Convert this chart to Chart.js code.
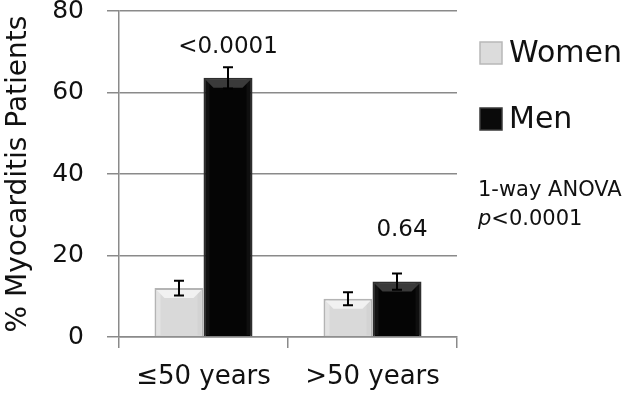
<!DOCTYPE html>
<html>
<head>
<meta charset="utf-8">
<script src="https://cdn.jsdelivr.net/npm/chart.js@4.4.1/dist/chart.umd.min.js"></script>
<style>
    html, body { margin: 0; padding: 0; background: #fff; }
    #wrap { width: 643px; height: 403px; }
</style>
</head>
<body>
<div id="wrap"><canvas id="myoChart"></canvas></div>
<script>
const ageGroups = ['\u226450 years', '>50 years'];
const seriesNames = ['Women', 'Men'];
const womenValues = [12.0, 9.4];
const menValues = [63.6, 13.6];
const womenErrors = [1.8, 1.6];
const menErrors = [2.6, 2.0];
const pValues = ['<0.0001', '0.64'];
const pLabelLevels = [71.2, 26.3];
const yTicks = [0, 20, 40, 60, 80];

const FONT = "'DejaVu Sans', sans-serif";

// bevel shading: top band plus faint side edges
const bevelColors = [
    { top: '#f1f1f1', left: '#e3e3e3', right: '#d3d3d3' },
    { top: '#3a3a3a', left: '#121212', right: '#0f0f0f' }
];

const bevelPlugin = {
    id: 'bevel',
    afterDatasetsDraw(chart) {
        const ctx = chart.ctx;
        const b = 8;
        const s = 4;
        ctx.save();
        chart.data.datasets.forEach((ds, di) => {
            const meta = chart.getDatasetMeta(di);
            const c = bevelColors[di];
            meta.data.forEach(bar => {
                const l = bar.x - bar.width / 2 + 2;
                const r = bar.x + bar.width / 2 - 2;
                const t = bar.y + 2;
                const bot = bar.base - 1;
                ctx.fillStyle = c.left;
                ctx.fillRect(l, t, s, bot - t);
                ctx.fillStyle = c.right;
                ctx.fillRect(r - s, t, s, bot - t);
                ctx.fillStyle = c.top;
                ctx.beginPath();
                ctx.moveTo(l, t);
                ctx.lineTo(r, t);
                ctx.lineTo(r - b, t + b);
                ctx.lineTo(l + b, t + b);
                ctx.closePath();
                ctx.fill();
            });
        });
        ctx.restore();
    }
};

// error bars (I shape) drawn from the bar positions
const errorBarPlugin = {
    id: 'errorBars',
    afterDatasetsDraw(chart) {
        const ctx = chart.ctx;
        const yScale = chart.scales.y;
        ctx.save();
        ctx.strokeStyle = '#000';
        ctx.lineWidth = 2;
        chart.data.datasets.forEach((ds, di) => {
            const meta = chart.getDatasetMeta(di);
            meta.data.forEach((bar, i) => {
                const v = ds.data[i];
                const err = ds.errors[i];
                const yTop = yScale.getPixelForValue(v + err);
                const yBot = yScale.getPixelForValue(v - err);
                ctx.beginPath();
                ctx.moveTo(bar.x, yTop);
                ctx.lineTo(bar.x, yBot);
                ctx.moveTo(bar.x - 5, yTop);
                ctx.lineTo(bar.x + 5, yTop);
                ctx.moveTo(bar.x - 5, yBot);
                ctx.lineTo(bar.x + 5, yBot);
                ctx.stroke();
            });
        });
        ctx.restore();
    }
};

// p-value labels above the men bars, legend and ANOVA note on the right
const annotationPlugin = {
    id: 'annotations',
    afterDraw(chart) {
        const ctx = chart.ctx;
        const area = chart.chartArea;
        const menMeta = chart.getDatasetMeta(1);
        ctx.save();
        ctx.fillStyle = '#111';
        ctx.textAlign = 'center';
        ctx.textBaseline = 'middle';
        ctx.font = '23px ' + FONT;
        menMeta.data.forEach((bar, i) => {
            const yLabel = chart.scales.y.getPixelForValue(pLabelLevels[i]);
            ctx.fillText(pValues[i], bar.x + (i === 1 ? 5 : 0), yLabel);
        });

        const lx = area.right + 23;
        const colors = [['#dcdcdc', '#b8b8b8'], ['#0a0a0a', '#3a3a3a']];
        const ly = [53, 119];
        ctx.textAlign = 'left';
        ctx.font = '30px ' + FONT;
        seriesNames.forEach((name, i) => {
            ctx.fillStyle = colors[i][0];
            ctx.fillRect(lx, ly[i] - 11, 22, 22);
            ctx.strokeStyle = colors[i][1];
            ctx.lineWidth = 1.5;
            ctx.strokeRect(lx, ly[i] - 11, 22, 22);
            ctx.fillStyle = '#111';
            ctx.fillText(name, lx + 29, ly[i] + 1);
        });

        ctx.font = '21px ' + FONT;
        ctx.fillText('1-way ANOVA', lx - 2, 191);
        ctx.font = 'italic 21px ' + FONT;
        ctx.fillText('p', lx - 2, 220);
        const pw = ctx.measureText('p').width;
        ctx.font = '21px ' + FONT;
        ctx.fillText('<0.0001', lx - 2 + pw, 220);
        ctx.restore();
    }
};

const ctx = document.getElementById('myoChart').getContext('2d');
new Chart(ctx, {
    type: 'bar',
    data: {
        labels: ageGroups,
        datasets: [
            {
                label: seriesNames[0],
                data: womenValues,
                errors: womenErrors,
                backgroundColor: '#d9d9d9',
                borderColor: '#b4b4b4',
                borderWidth: 2,
                barPercentage: 1,
                categoryPercentage: 0.58
            },
            {
                label: seriesNames[1],
                data: menValues,
                errors: menErrors,
                backgroundColor: '#050505',
                borderColor: '#2e2e2e',
                borderWidth: 2,
                barPercentage: 1,
                categoryPercentage: 0.58
            }
        ]
    },
    options: {
        responsive: true,
        maintainAspectRatio: false,
        animation: false,
        layout: {
            padding: { left: 0, right: 186, top: 11, bottom: 0 }
        },
        plugins: {
            legend: { display: false },
            tooltip: { enabled: false }
        },
        scales: {
            x: {
                offset: true,
                grid: {
                    offset: true,
                    drawOnChartArea: false,
                    color: '#8a8a8a',
                    lineWidth: 1.5,
                    tickLength: 11
                },
                border: { color: '#8a8a8a', width: 1.5 },
                ticks: {
                    color: '#111',
                    padding: 14,
                    font: { family: FONT, size: 26 }
                },
                afterFit(scale) { scale.height = 66; }
            },
            y: {
                min: 0,
                max: 80,
                afterBuildTicks(scale) {
                    scale.ticks = yTicks.map(v => ({ value: v }));
                },
                grid: {
                    color: '#8a8a8a',
                    lineWidth: 1.5,
                    tickLength: 12
                },
                border: { color: '#8a8a8a', width: 1.5 },
                ticks: {
                    color: '#111',
                    padding: 23,
                    font: { family: FONT, size: 25 }
                },
                title: {
                    display: true,
                    text: '% Myocarditis Patients',
                    color: '#111',
                    padding: { top: 2, bottom: 0 },
                    font: { family: FONT, size: 28 }
                },
                afterFit(scale) {
                    scale.width = 119;
                    scale.paddingTop = 0;
                    scale.paddingBottom = 0;
                }
            }
        }
    },
    plugins: [bevelPlugin, errorBarPlugin, annotationPlugin]
});
</script>
</body>
</html>
